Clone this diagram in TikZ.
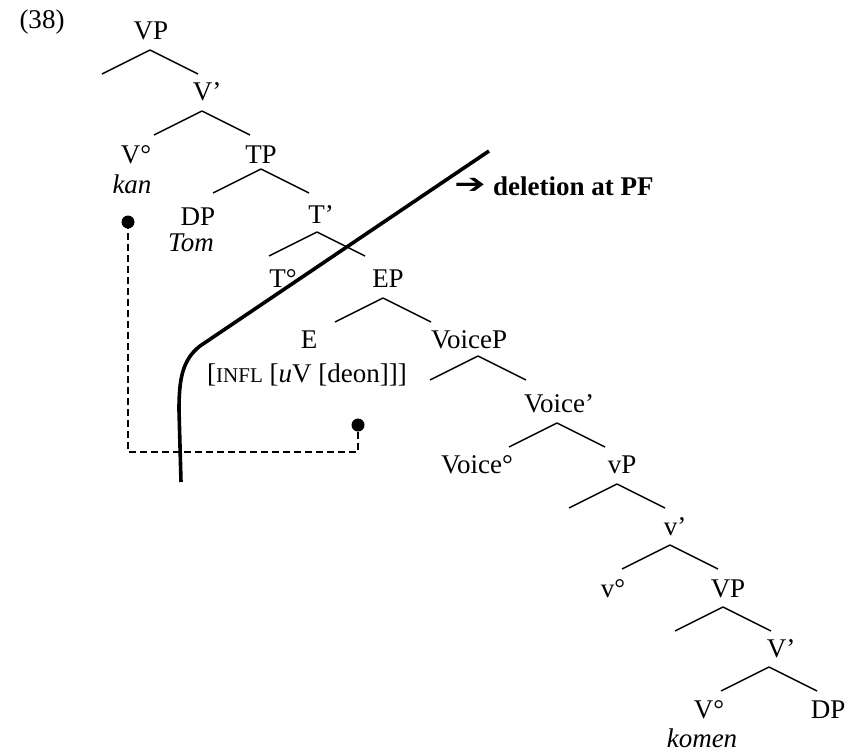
\documentclass[tikz,border=0pt]{standalone}
\usepackage{fontspec}
\usepackage{graphicx}
\setmainfont{Liberation Serif}
\newfontfamily\arrowfont{DejaVu Sans}
\tikzset{
  lbl/.style={anchor=base, inner sep=0pt, font=\fontsize{27}{32}\selectfont},
  branch/.style={line width=1.4pt},
  cut/.style={line width=3.6pt},
  dashline/.style={line width=1.4pt, dash pattern=on 7pt off 4pt},
  dotnode/.style={circle, fill=black, minimum size=13pt, inner sep=0pt}
}
\newcommand{\tbranch}[3]{%
  \coordinate (#1) at (#2,#3);
  \draw[branch] (#1) -- ++(-48,24) (#1) -- ++(48,24);}
\begin{document}
\begin{tikzpicture}[x=1pt,y=-1pt]
\useasboundingbox (0,0) rectangle (861,753);
% labels
\node[lbl] (ex) at (42,28) {(38)};
\node[lbl] (VP1) at (151,39) {VP};
\node[lbl] (Vb1) at (207,100) {V’};
\node[lbl] (V01) at (136,163) {V°};
\node[lbl] (kan) at (132,193) {\itshape kan};
\node[lbl] (TP) at (261,163) {TP};
\node[lbl] (DP1) at (198,225) {DP};
\node[lbl] (Tom) at (191,251) {\itshape Tom};
\node[lbl] (Tb) at (321,223) {T’};
\node[lbl] (T0) at (283,287) {T°};
\node[lbl] (EP) at (388,287) {EP};
\node[lbl] (E) at (309,348) {E};
\node[lbl] (feat) at (307,382) {[{\fontsize{21}{24}\selectfont INFL} [{\itshape u}V [deon]]]};
\node[lbl] (VoiceP) at (469,348) {VoiceP};
\node[lbl] (Voiceb) at (559,412) {Voice’};
\node[lbl] (Voice0) at (477,473) {Voice°};
\node[lbl] (vP) at (622,473) {vP};
\node[lbl] (vb) at (675,535) {v’};
\node[lbl] (v0) at (613,597) {v°};
\node[lbl] (VP2) at (728,597) {VP};
\node[lbl] (Vb2) at (781,657) {V’};
\node[lbl] (V02) at (709,718) {V°};
\node[lbl] (DP2) at (828,718) {DP};
\node[lbl] (komen) at (702,747) {\itshape komen};
\node[inner sep=0pt] (arr) at (470,186) {\arrowfont\fontsize{22}{24}\selectfont\scalebox{1.7}[1.25]{➔}};
\node[lbl, anchor=base west] (del) at (493,195) {\textbf{deletion at PF}};
% branches
\tbranch{a1}{150}{50}
\tbranch{a2}{202}{111}
\tbranch{a3}{261}{169}
\tbranch{a4}{317}{232}
\tbranch{a5}{383}{298}
\tbranch{a6}{478}{356}
\tbranch{a7}{557}{423}
\tbranch{a8}{617}{484}
\tbranch{a9}{670}{545}
\tbranch{a10}{723}{607}
\tbranch{a11}{769}{667}
% cut line
\coordinate (ct) at (489,151);
\coordinate (cb) at (181,482);
\draw[cut] (ct) -- (200,346) .. controls (182,360) and (179,380) .. (179,410) -- (cb);
% dashed link
\node[dotnode] (d1) at (128,222) {};
\node[dotnode] (d2) at (358,425) {};
\coordinate (c1) at (128,452);
\coordinate (c2) at (358,452);
\draw[dashline] (d1.center) -- (c1) -- (c2) -- (d2.center);
\end{tikzpicture}
\end{document}
